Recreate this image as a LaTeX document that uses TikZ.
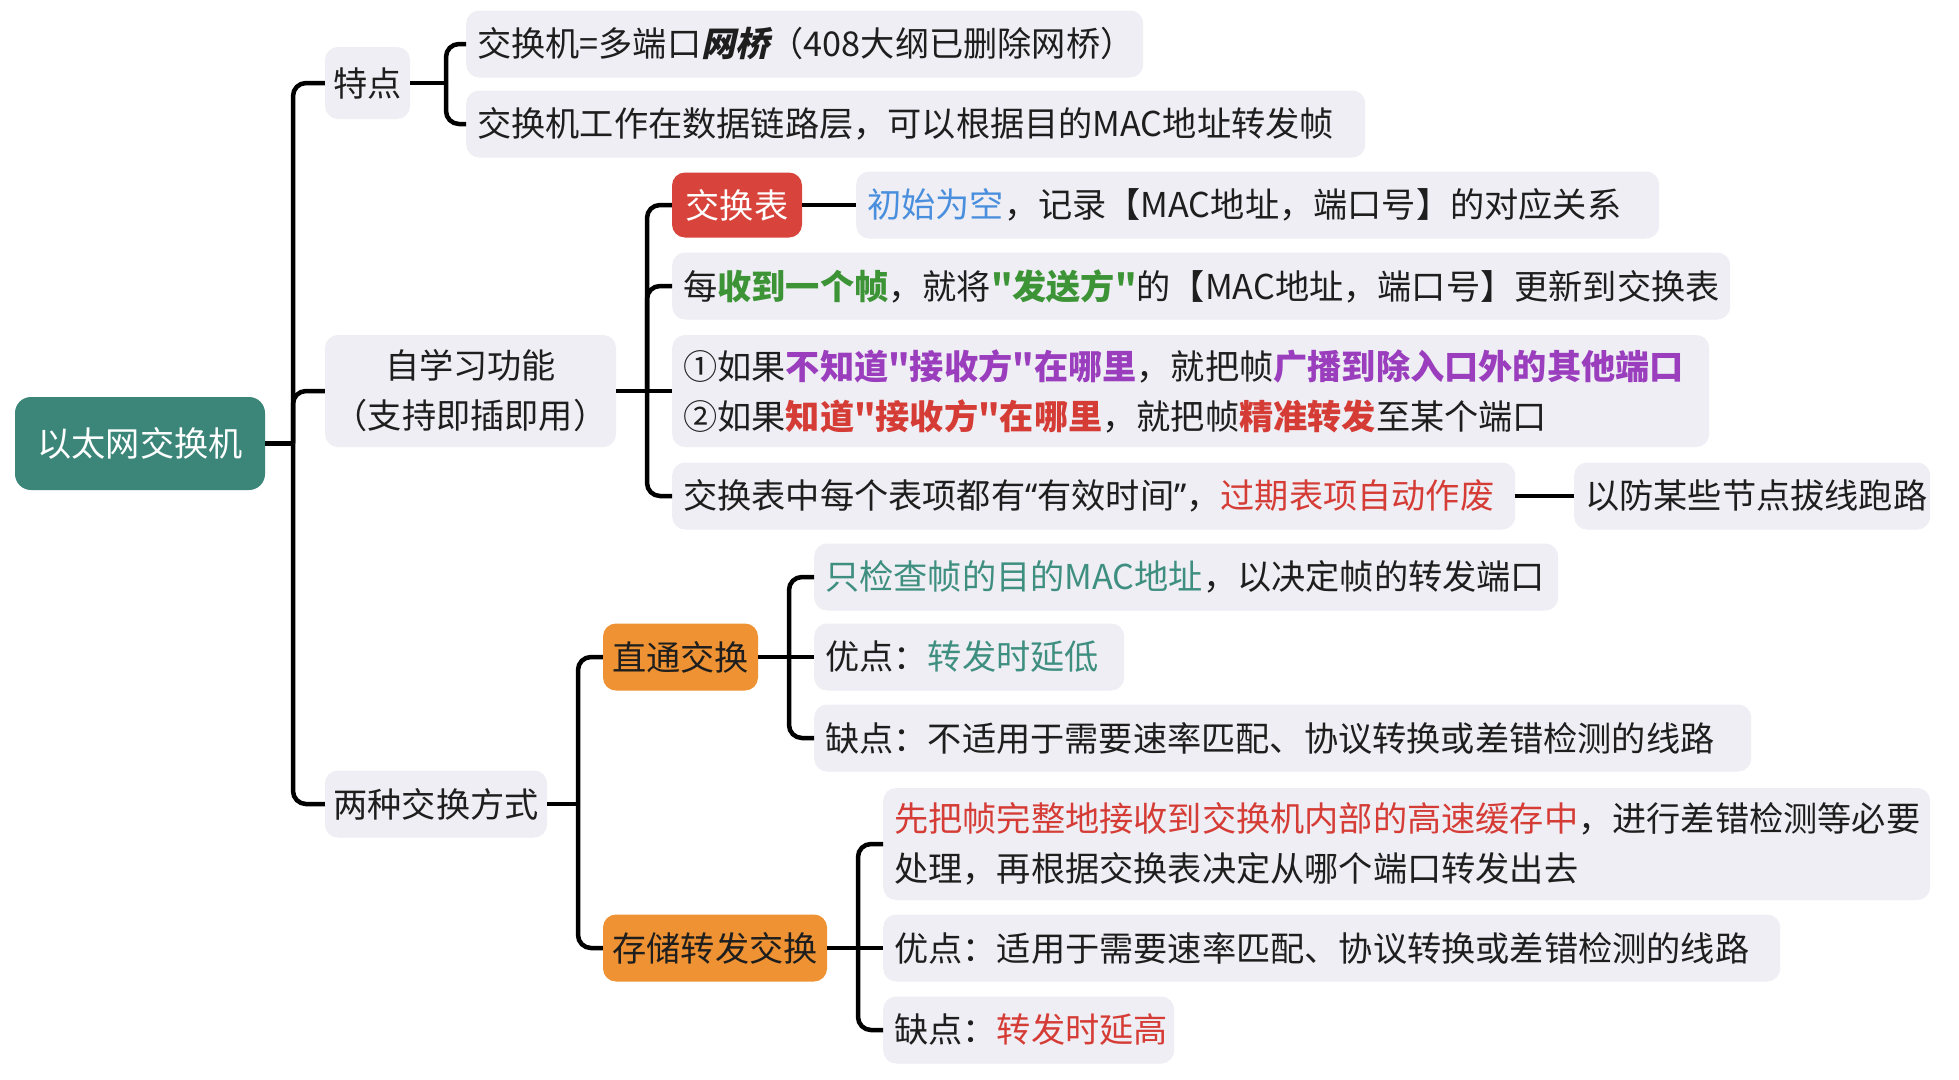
\documentclass[tikz,border=0pt]{standalone}
\usepackage{fontspec}
\setmainfont{Noto Sans CJK SC}[Ligatures=TeXOff]
\newfontfamily\slfont{Noto Sans CJK SC}[Ligatures=TeXOff, FakeSlant=0.22]
\newfontfamily\latinq{Noto Sans}[Ligatures=TeXOff]
\definecolor{rootc}{HTML}{3B8679}
\definecolor{redc}{HTML}{D8433B}
\definecolor{orangec}{HTML}{EE9233}
\definecolor{boxbg}{HTML}{EEEEF4}
\definecolor{ink}{HTML}{1E1E1E}
\definecolor{cblue}{HTML}{4A8FDD}
\definecolor{cgreen}{HTML}{3D9436}
\definecolor{cpurple}{HTML}{9A3EBE}
\definecolor{cred}{HTML}{D63C36}
\definecolor{cteal}{HTML}{3F8F80}
\tikzset{
  box/.style={rounded corners=13pt, fill=boxbg, text=ink, inner sep=0pt},
  leaf/.style={box, anchor=west, inner xsep=11pt, minimum height=67pt, align=left},
  cat/.style={box, align=center},
  conn/.style={line width=4.5pt, black, rounded corners=13pt},
}
\begin{document}
\begin{tikzpicture}[x=1pt,y=-1pt,font=\fontsize{34.2}{50}\selectfont]
\useasboundingbox[fill=white] (0,0) rectangle (1959,1079);

% root
\node[box, fill=rootc, text=white, minimum width=250pt, minimum height=93pt, rounded corners=16pt] (root) at (140,443.5) {以太网交换机};

% level 1
\node[cat, minimum width=85pt, minimum height=72pt] (tedian) at (367.5,83) {特点};
\node[cat, minimum width=291pt, minimum height=112pt] (zixue) at (470.5,391) {自学习功能\\（支持即插即用）};
\node[cat, minimum width=222pt, minimum height=67pt] (liang) at (436,804) {两种交换方式};

% 特点 children
\node[leaf, text width=655pt] (t1) at (466,44) {交换机=多端口{\slfont\bfseries 网桥}（408大纲已删除网桥）};
\node[leaf, text width=877pt] (t2) at (466,124) {交换机工作在数据链路层，可以根据目的MAC地址转发帧};

% 自学习 children
\node[box, fill=redc, text=white, minimum width=130pt, minimum height=65pt] (jhb) at (737,205) {交换表};
\node[leaf, text width=781pt] (j1) at (856,205) {\textcolor{cblue}{初始为空}，记录【MAC地址，端口号】的对应关系};
\node[leaf, text width=1036pt] (j2) at (672,286) {每\textcolor{cgreen}{\textbf{收到一个帧}}，就将\textcolor{cgreen}{\textbf{"发送方"}}的【MAC地址，端口号】更新到交换表};
\node[leaf, text width=1015pt, minimum height=112pt] (j3) at (672,391) {①如果\textcolor{cpurple}{\textbf{不知道"接收方"在哪里}}，就把帧\textcolor{cpurple}{\textbf{广播到除入口外的其他端口}}\\②如果\textcolor{cred}{\textbf{知道"接收方"在哪里}}，就把帧\textcolor{cred}{\textbf{精准转发}}至某个端口};
\node[leaf, text width=821pt] (j4) at (672,496) {交换表中每个表项都有{\latinq “}有效时间{\latinq ”}，\textcolor{cred}{过期表项自动作废}};
\node[leaf, text width=334pt] (j5) at (1574,496) {以防某些节点拔线跑路};

% 两种交换方式 children
\node[box, fill=orangec, text=ink, minimum width=155pt, minimum height=67pt] (zt) at (680.5,657) {直通交换};
\node[box, fill=orangec, text=ink, minimum width=224pt, minimum height=67pt] (cc) at (715,948) {存储转发交换};

\node[leaf, text width=722pt] (z1) at (814,577) {\textcolor{cteal}{只检查帧的目的MAC地址}，以决定帧的转发端口};
\node[leaf, text width=288pt] (z2) at (814,657) {优点：\textcolor{cteal}{转发时延低}};
\node[leaf, text width=915pt] (z3) at (814,738) {缺点：不适用于需要速率匹配、协议转换或差错检测的线路};

\node[leaf, text width=1025pt, minimum height=112pt] (s1) at (883,844) {\textcolor{cred}{先把帧完整地接收到交换机内部的高速缓存中}，进行差错检测等必要\\处理，再根据交换表决定从哪个端口转发出去};
\node[leaf, text width=875pt] (s2) at (883,948) {优点：适用于需要速率匹配、协议转换或差错检测的线路};
\node[leaf, text width=269pt] (s3) at (883,1030) {缺点：\textcolor{cred}{转发时延高}};

% connectors
\coordinate (b0) at (293,443.5);
\draw[conn] (root.east) -- (b0);
\draw[conn] (b0) |- (tedian.west);
\draw[conn] (b0) |- (zixue.west);
\draw[conn] (b0) |- (liang.west);

\coordinate (b1) at (446,83);
\draw[conn] (tedian.east) -- (b1);
\draw[conn] (b1) |- (t1.west);
\draw[conn] (b1) |- (t2.west);

\coordinate (b2) at (647,391);
\draw[conn] (zixue.east) -- (j3.west);
\draw[conn] (b2) |- (jhb.west);
\draw[conn] (b2) |- (j2.west);
\draw[conn] (b2) |- (j4.west);
\draw[conn] (jhb.east) -- (j1.west);
\draw[conn] (j4.east) -- (j5.west);

\coordinate (b3) at (578,804);
\draw[conn] (liang.east) -- (b3);
\draw[conn] (b3) |- (zt.west);
\draw[conn] (b3) |- (cc.west);

\coordinate (b4) at (789,657);
\draw[conn] (zt.east) -- (z2.west);
\draw[conn] (b4) |- (z1.west);
\draw[conn] (b4) |- (z3.west);

\coordinate (b5) at (858,948);
\draw[conn] (cc.east) -- (s2.west);
\draw[conn] (b5) |- (s1.west);
\draw[conn] (b5) |- (s3.west);
\end{tikzpicture}
\end{document}
